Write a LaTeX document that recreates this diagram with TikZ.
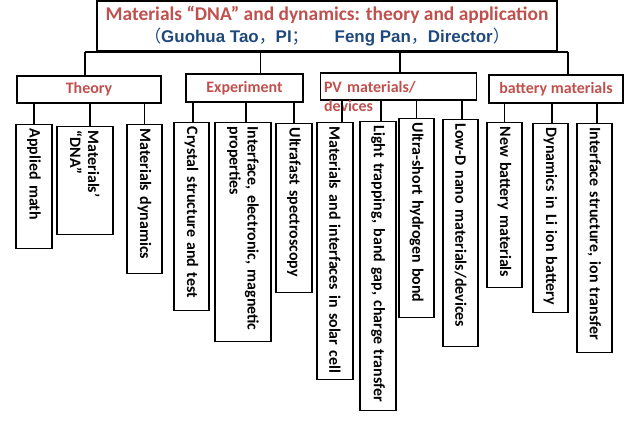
\documentclass[tikz,border=0pt]{standalone}
\usepackage{fontspec}
\setmainfont{Carlito}
\newfontfamily\arialfont{Liberation Sans}
\newfontfamily\cjk{Noto Sans CJK SC}
\newcommand\cjpunct[1]{{\normalfont\cjk #1}}
\usepackage{tikz}
\definecolor{titlered}{RGB}{192,80,77}
\definecolor{nameblue}{RGB}{31,73,125}
\tikzset{
  headbox/.style={draw,line width=1.2bp,minimum height=27bp,text=titlered,font=\bfseries\fontsize{16}{19}\selectfont},
  leaf/.style={draw,line width=1.2bp,rotate=-90,anchor=west,align=left,inner xsep=4bp,inner ysep=0bp,minimum height=35bp,font=\bfseries\fontsize{16}{18}\selectfont},
  link/.style={line width=1.5bp}
}

\begin{document}
\begin{tikzpicture}
\useasboundingbox (0bp,0bp) rectangle (636bp,-429bp);

\node (top) at (327bp,-26bp)[draw,line width=1.2bp,minimum width=460bp,minimum height=50bp,align=center,font=\bfseries\fontsize{19.5}{21.5}\selectfont] {{\color{titlered}Materials “DNA” and dynamics: theory and application}\\{\color{nameblue}\fontsize{17}{21.5}\selectfont\arialfont\cjpunct{（}Guohua Tao\cjpunct{，}PI\cjpunct{；}\hspace*{26bp}Feng Pan\cjpunct{，}Director\cjpunct{）}}};

\node (theory) at (89bp,-89.5bp)[headbox,minimum width=144bp] {Theory};
\node (experiment) at (244.5bp,-88bp)[headbox,minimum width=117bp,minimum height=28bp] {Experiment};
\node (pv) at (398.5bp,-86.5bp)[headbox,text width=149bp,align=left,text depth=0bp] {PV materials/\\devices};
\node (battery) at (556bp,-89bp)[headbox,minimum width=134bp,minimum height=28bp] {battery materials};

\coordinate (busL) at (85bp,-52bp);
\coordinate (busR) at (568bp,-52bp);
\draw [link] (busL) -- (busR);
\draw [link] (busL) -- (busL |- theory.north);
\draw [link] ([xshift=16bp]experiment.north) -- ([xshift=16bp]experiment.north |- busL);
\draw [link] ([xshift=1.5bp]pv.north) -- ([xshift=1.5bp]pv.north |- busL);
\draw [link] (busR) -- (busR |- battery.north);

\node (appliedmath) at (34bp,-124bp)[leaf,text width=116bp,minimum height=36bp] {Applied math};
\node (dna) at (85bp,-126bp)[leaf,text width=100bp,minimum height=56bp] {Materials’\\“DNA”};
\node (matdyn) at (144.5bp,-124bp)[leaf,text width=141bp] {Materials dynamics};
\draw [link] (appliedmath.west) -- (appliedmath.west |- theory.south);
\draw [link] ([xshift=5bp]dna.west) -- ([xshift=5bp]dna.west |- theory.south);
\draw [link] (matdyn.west) -- (matdyn.west |- theory.south);

\node (crystal) at (191.5bp,-122bp)[leaf,text width=180bp] {Crystal structure and test};
\node (interface) at (243bp,-122bp)[leaf,text width=211bp,minimum height=56bp] {Interface, electronic, magnetic\\properties};
\node (ultrafast) at (294bp,-123bp)[leaf,text width=161bp,minimum height=36bp] {Ultrafast spectroscopy};
\draw [link] ([xshift=1.5bp]crystal.west) -- ([xshift=1.5bp]crystal.west |- experiment.south);
\draw [link] ([xshift=3bp]interface.west) -- ([xshift=3bp]interface.west |- experiment.south);
\draw [link] (ultrafast.west) -- (ultrafast.west |- experiment.south);

\node (solar) at (335bp,-122bp)[leaf,text width=249bp,minimum height=36bp] {Materials and interfaces in solar cell};
\node (light) at (378bp,-121bp)[leaf,text width=281bp,minimum height=36bp] {Light trapping, band gap, charge transfer};
\node (hydrogen) at (416.5bp,-118bp)[leaf,text width=191bp] {Ultra-short hydrogen bond};
\node (lowd) at (460.5bp,-119bp)[leaf,text width=219bp] {Low-D nano materials/devices};
\draw [link] ([xshift=7bp]solar.west) -- ([xshift=7bp]solar.west |- pv.south);
\draw [link] ([xshift=3bp]light.west) -- ([xshift=3bp]light.west |- pv.south);
\draw [link] (hydrogen.west) -- (hydrogen.west |- pv.south);
\draw [link] ([xshift=1.5bp]lowd.west) -- ([xshift=1.5bp]lowd.west |- pv.south);

\node (newbat) at (504.5bp,-122bp)[leaf,text width=157bp] {New battery materials};
\node (liion) at (550.5bp,-123bp)[leaf,text width=181bp] {Dynamics in Li ion battery};
\node (ionxfer) at (594.5bp,-123bp)[leaf,text width=221bp] {Interface structure, ion transfer};
\draw [link] (newbat.west) -- (newbat.west |- battery.south);
\draw [link] ([xshift=1.5bp]liion.west) -- ([xshift=1.5bp]liion.west |- battery.south);
\draw [link] ([xshift=2.5bp]ionxfer.west) -- ([xshift=2.5bp]ionxfer.west |- battery.south);
\end{tikzpicture}
\end{document}
